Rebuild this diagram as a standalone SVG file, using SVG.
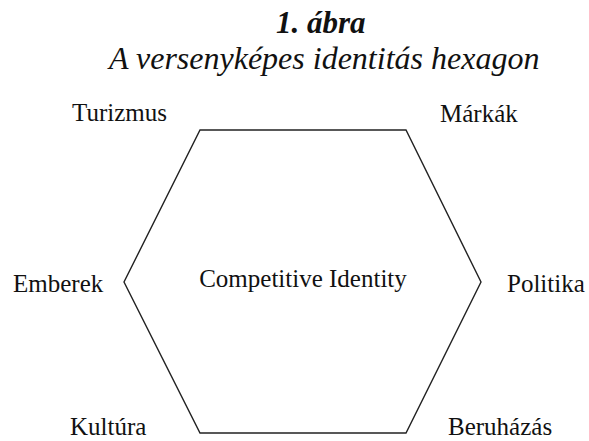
<svg xmlns="http://www.w3.org/2000/svg" width="589" height="441" viewBox="0 0 589 441">
<style>
.t{font-family:"Liberation Serif","Times New Roman",serif;fill:#111}
.title{font-size:31px;font-weight:bold;font-style:italic}
.sub{font-size:32px;font-style:italic}
.lbl{font-size:25px}
.hex{fill:none;stroke:#222;stroke-width:1.4;stroke-linejoin:miter}
</style>
<rect width="589" height="441" fill="#fff"/>
<g id="title">
<text class="t title" x="276" y="33">1. ábra</text>
<text class="t sub" x="109" y="69">A versenyképes identitás hexagon</text>
</g>
<g id="hexagon">
<polygon class="hex" points="200,130 406,130 481,282 406,433 200,433 124,282"/>
<text class="t lbl" x="303" y="287" text-anchor="middle">Competitive Identity</text>
</g>
<g id="turizmus"><text class="t lbl" x="72" y="121">Turizmus</text></g>
<g id="markak"><text class="t lbl" x="440" y="122">Márkák</text></g>
<g id="emberek"><text class="t lbl" x="13" y="292">Emberek</text></g>
<g id="politika"><text class="t lbl" x="507" y="292">Politika</text></g>
<g id="kultura"><text class="t lbl" x="70" y="435">Kultúra</text></g>
<g id="beruhazas"><text class="t lbl" x="448" y="435">Beruházás</text></g>
</svg>
